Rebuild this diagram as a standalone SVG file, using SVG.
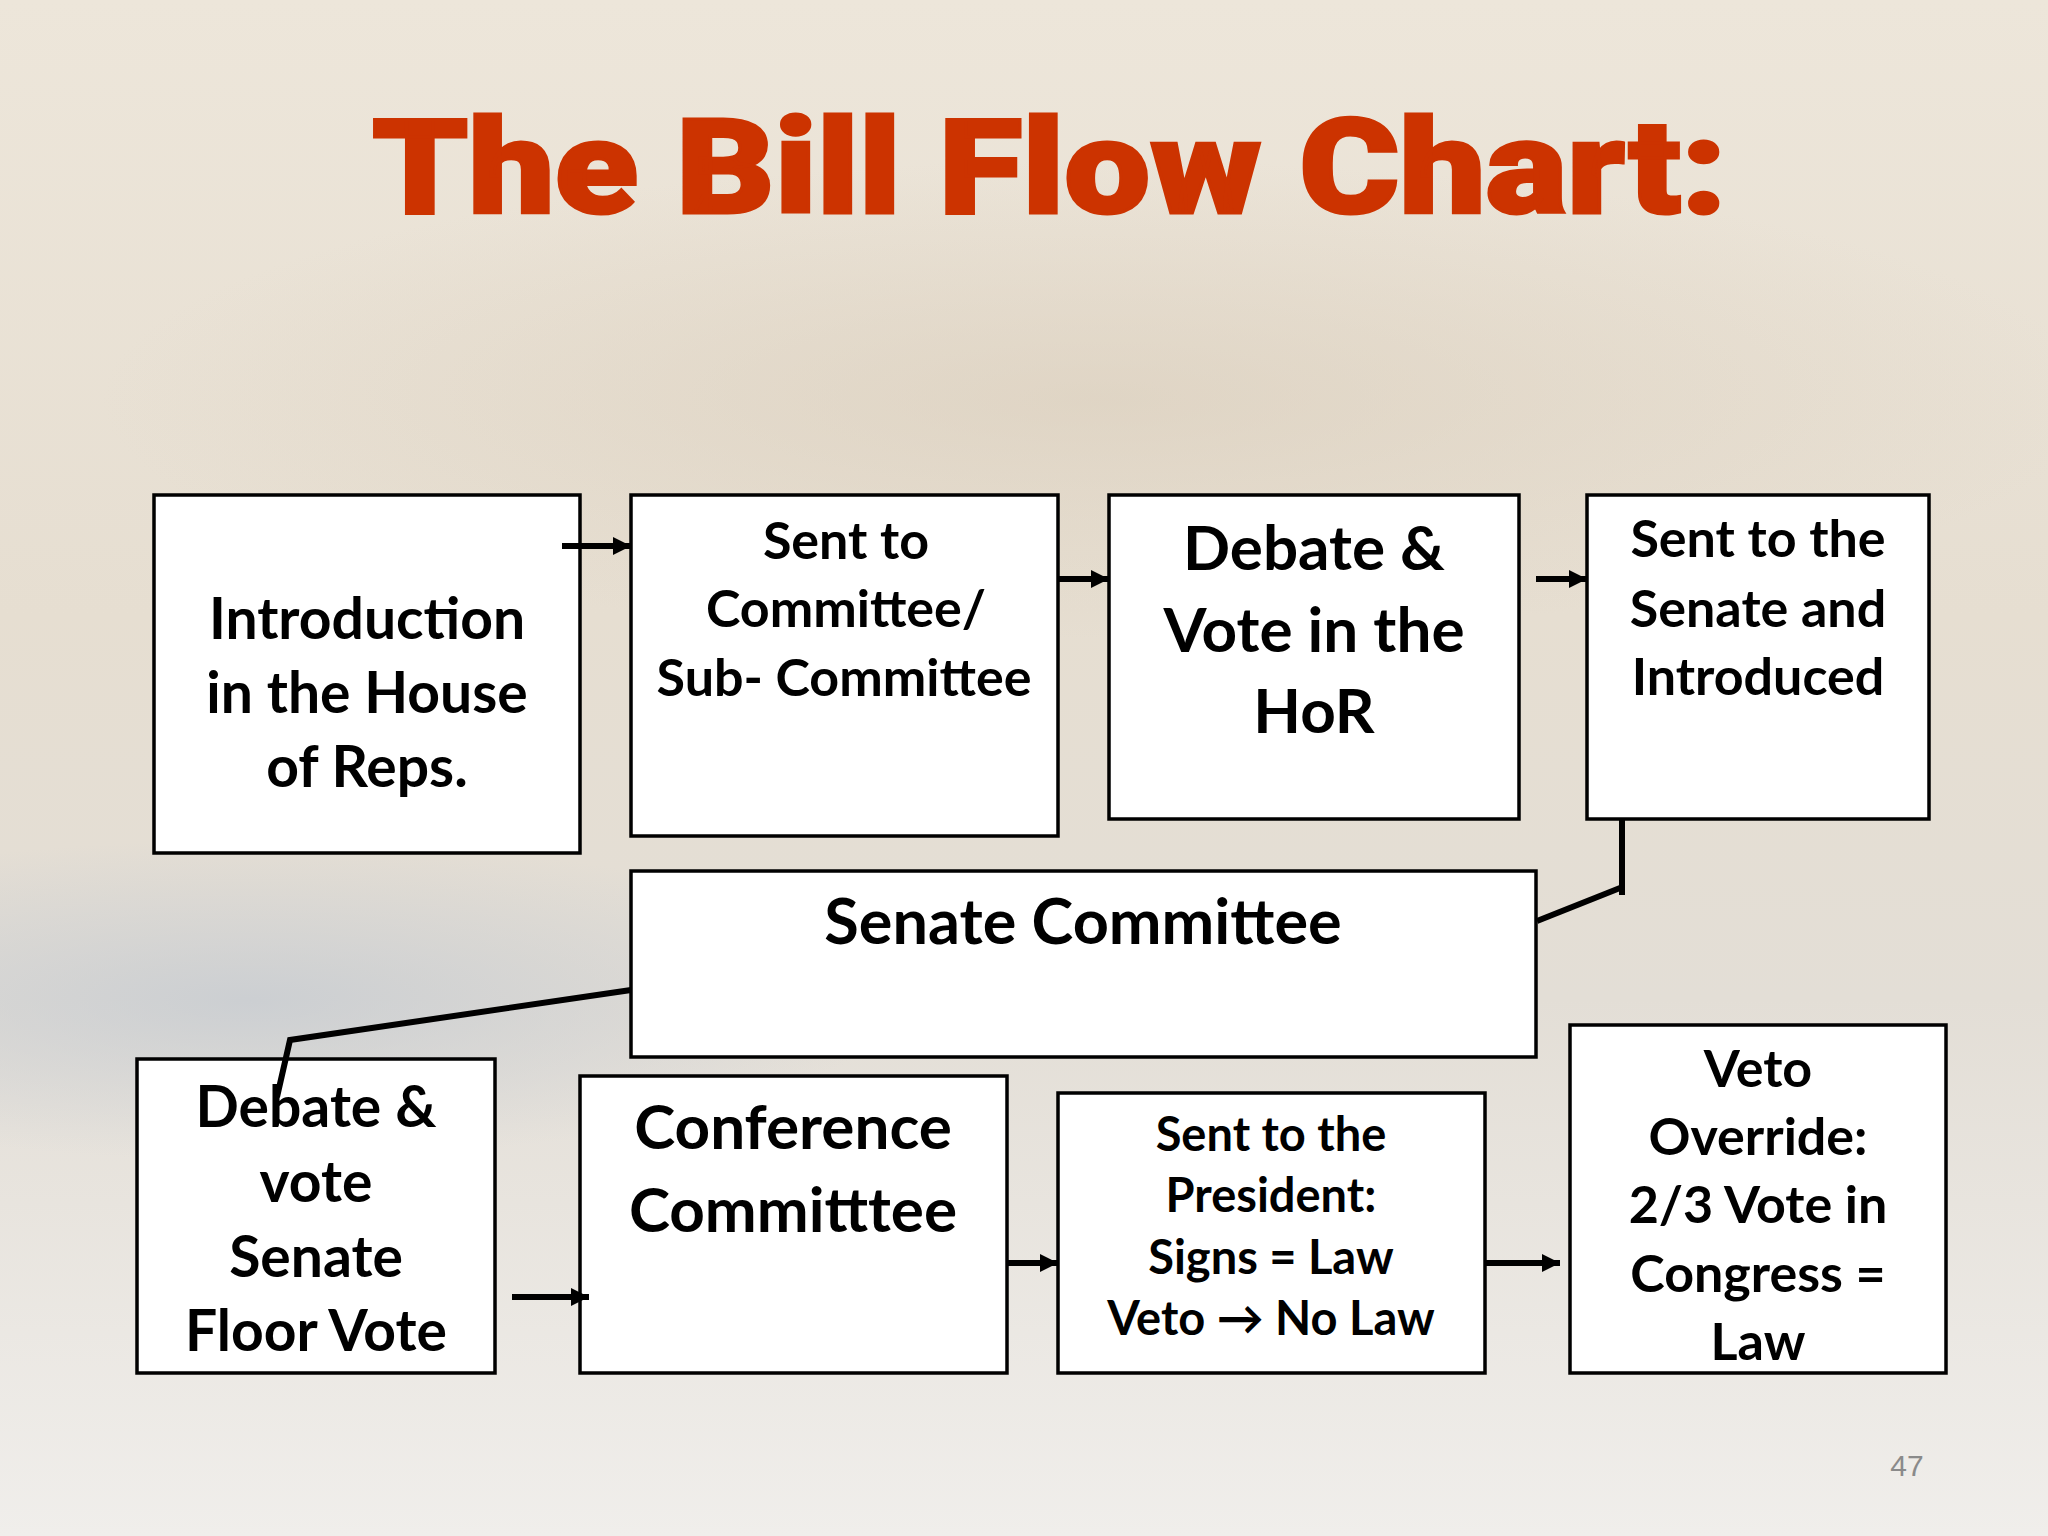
<svg xmlns="http://www.w3.org/2000/svg" width="2048" height="1536" viewBox="0 0 2048 1536">
<defs>
<linearGradient id="bg" x1="0" y1="0" x2="0" y2="1">
<stop offset="0" stop-color="#EDE6DA"/>
<stop offset="0.4" stop-color="#E6DED1"/>
<stop offset="0.65" stop-color="#E3DED6"/>
<stop offset="1" stop-color="#F0EEEB"/>
</linearGradient>
<radialGradient id="blue" cx="0.5" cy="0.5" r="0.5">
<stop offset="0" stop-color="#C6CBD1" stop-opacity="0.8"/>
<stop offset="1" stop-color="#C6CBD1" stop-opacity="0"/>
</radialGradient>
<radialGradient id="warm" cx="0.5" cy="0.5" r="0.5">
<stop offset="0" stop-color="#D8CBB8" stop-opacity="0.55"/>
<stop offset="1" stop-color="#D8CBB8" stop-opacity="0"/>
</radialGradient>
<marker id="arr" viewBox="0 0 10 10" refX="10" refY="5" markerWidth="20" markerHeight="18" markerUnits="userSpaceOnUse" orient="auto">
<path d="M0,0 L10,5 L0,10 z" fill="#000"/>
</marker>
<style>
.box{fill:#FFFFFF;stroke:#000;stroke-width:3.5}
.t{font-family:Lato,"Open Sans","Liberation Sans",sans-serif;font-weight:700;fill:#000;text-anchor:middle}
.con{stroke:#000;stroke-width:6;fill:none}
</style>
</defs>
<rect x="0" y="0" width="2048" height="1536" fill="url(#bg)"/>
<ellipse cx="250" cy="1000" rx="650" ry="160" fill="url(#blue)"/>
<ellipse cx="1100" cy="400" rx="1000" ry="240" fill="url(#warm)"/>

<text x="372" y="213" textLength="1355" lengthAdjust="spacingAndGlyphs" font-family="Roboto,'Liberation Sans',sans-serif" font-weight="900" font-size="132" fill="#CC3300" stroke="#CC3300" stroke-width="3">The Bill Flow Chart:</text>

<g id="n1"><rect class="box" x="154" y="495" width="426" height="358"/>
<text class="t" font-size="57"><tspan x="367" y="639">Introduction</tspan><tspan x="367" y="713">in the House</tspan><tspan x="367" y="787">of Reps.</tspan></text></g>

<g id="n2"><rect class="box" x="631" y="495" width="427" height="341"/>
<text class="t" font-size="52"><tspan x="846" y="559">Sent to</tspan><tspan x="846" y="627">Committee/</tspan><tspan x="844" y="696">Sub- Committee</tspan></text></g>

<g id="n3"><rect class="box" x="1109" y="495" width="410" height="324"/>
<text class="t" font-size="62"><tspan x="1314" y="570">Debate &amp;</tspan><tspan x="1314" y="652">Vote in the</tspan><tspan x="1314" y="733">HoR</tspan></text></g>

<g id="n4"><rect class="box" x="1587" y="495" width="342" height="324"/>
<text class="t" font-size="52"><tspan x="1758" y="557">Sent to the</tspan><tspan x="1758" y="627">Senate and</tspan><tspan x="1758" y="695">Introduced</tspan></text></g>

<g id="n5"><rect class="box" x="631" y="871" width="905" height="186"/>
<text class="t" font-size="63"><tspan x="1083" y="944">Senate Committee</tspan></text></g>

<g id="n6"><rect class="box" x="137" y="1059" width="358" height="314"/>
<text class="t" font-size="57"><tspan x="316" y="1127">Debate &amp;</tspan><tspan x="316" y="1202">vote</tspan><tspan x="316" y="1277">Senate</tspan><tspan x="316" y="1351">Floor Vote</tspan></text></g>

<g id="n7"><rect class="box" x="580" y="1076" width="427" height="297"/>
<text class="t" font-size="62"><tspan x="793" y="1149">Conference</tspan><tspan x="793" y="1232">Committtee</tspan></text></g>

<g id="n8"><rect class="box" x="1058" y="1093" width="427" height="280"/>
<text class="t" font-size="47"><tspan x="1271" y="1151">Sent to the</tspan><tspan x="1271" y="1212">President:</tspan><tspan x="1271" y="1274">Signs = Law</tspan><tspan x="1271" y="1335">Veto → No Law</tspan></text></g>

<g id="n9"><rect class="box" x="1570" y="1025" width="376" height="348"/>
<text class="t" font-size="52"><tspan x="1758" y="1087">Veto</tspan><tspan x="1758" y="1155">Override:</tspan><tspan x="1758" y="1223">2/3 Vote in</tspan><tspan x="1758" y="1292">Congress =</tspan><tspan x="1758" y="1360">Law</tspan></text></g>

<g id="connectors">
<line class="con" x1="562" y1="546" x2="631" y2="546" marker-end="url(#arr)"/>
<line class="con" x1="1058" y1="579" x2="1109" y2="579" marker-end="url(#arr)"/>
<line class="con" x1="1536" y1="579" x2="1587" y2="579" marker-end="url(#arr)"/>
<path class="con" d="M1622,819 V895"/>
<path class="con" d="M1620,888 L1537,921"/>
<path class="con" d="M631,990 L290,1040 L277,1097"/>
<line class="con" x1="512" y1="1297" x2="589" y2="1297" marker-end="url(#arr)"/>
<line class="con" x1="1007" y1="1263" x2="1058" y2="1263" marker-end="url(#arr)"/>
<line class="con" x1="1485" y1="1263" x2="1560" y2="1263" marker-end="url(#arr)"/>
</g>

<text x="1907" y="1476" font-family="'Liberation Sans',Arial,sans-serif" font-size="30" fill="#8A8A8A" text-anchor="middle">47</text>
</svg>
